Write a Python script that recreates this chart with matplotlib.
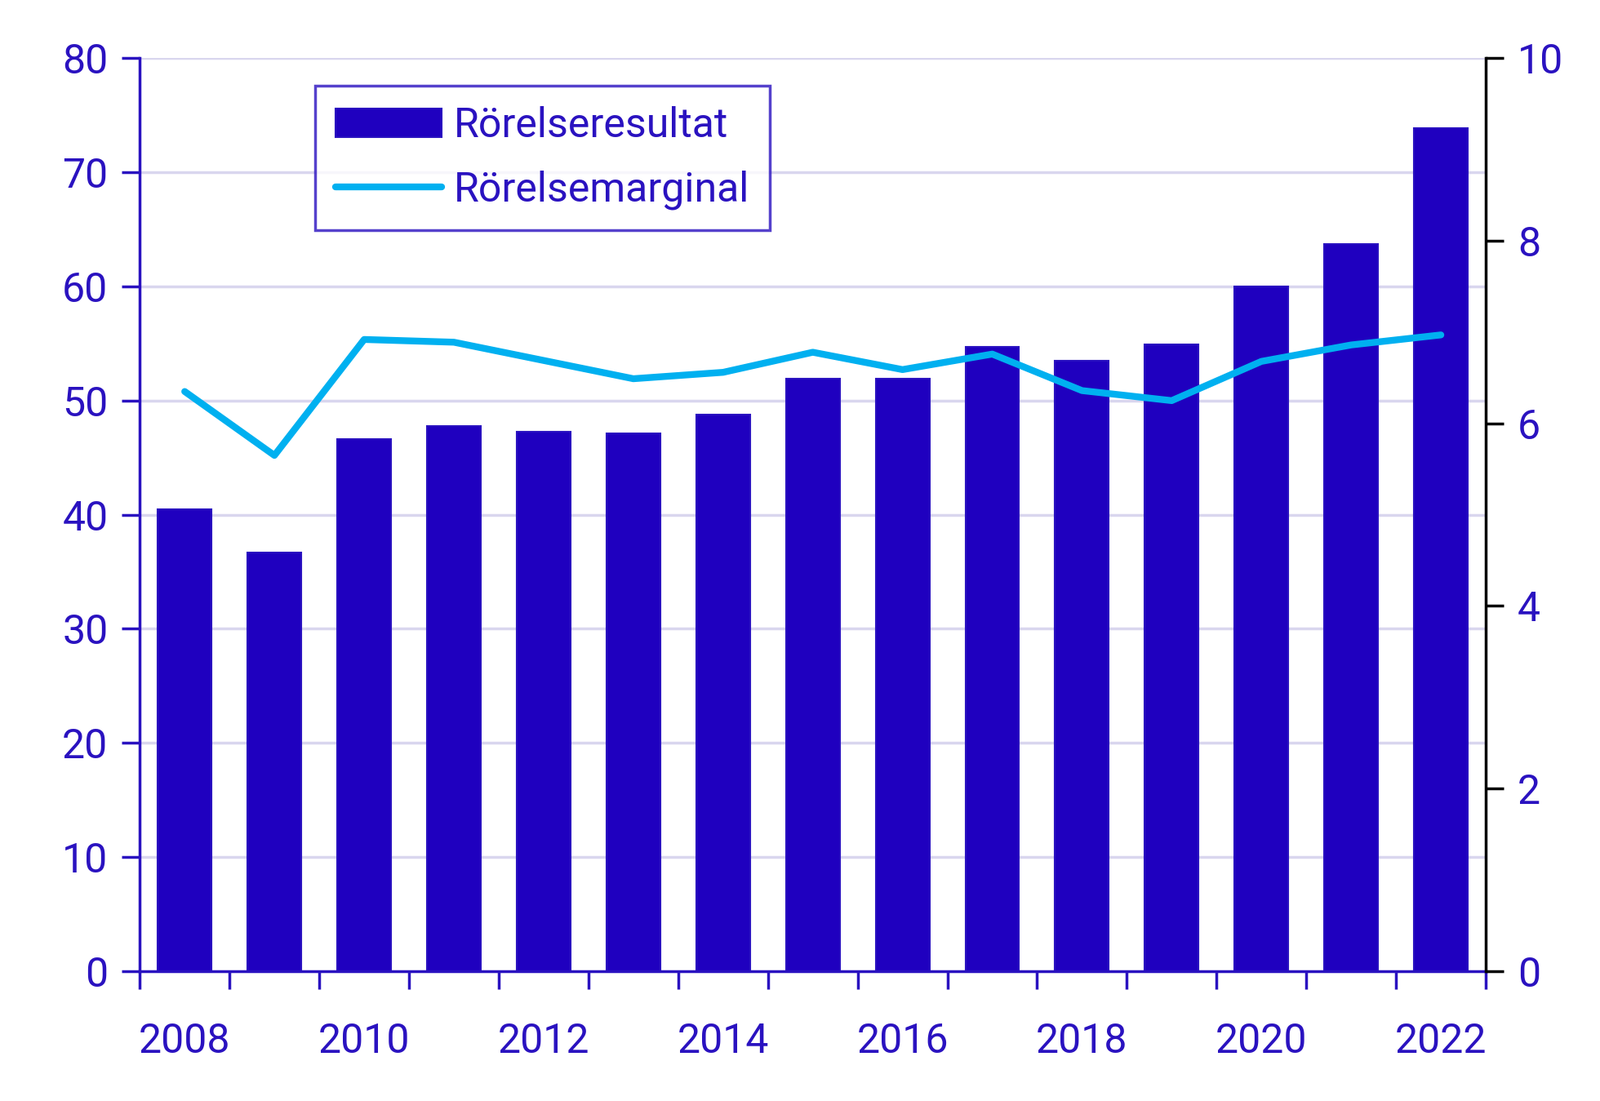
import matplotlib
matplotlib.use("Agg")
import matplotlib.pyplot as plt
import numpy as np

years = list(range(2008, 2023))
rorelseresultat = [40.5, 36.7, 46.6, 47.8, 47.3, 47.1, 48.8, 51.9, 51.9, 54.7, 53.5, 54.9, 60.0, 63.7, 73.9]
rorelsemarginal = [6.35, 5.65, 6.92, 6.89, 6.69, 6.49, 6.56, 6.78, 6.59, 6.76, 6.36, 6.25, 6.68, 6.86, 6.97]

dark = "#1F00BF"
light = "#00B0F0"
txt = "#2A12C0"
plt.rcParams["font.family"] = "Roboto"

fig = plt.figure(figsize=(19.6, 13.49), dpi=100)
ax = fig.add_axes([0.0874, 0.118, 0.8412, 0.829])
x = np.arange(len(years))
ax.bar(x, rorelseresultat, width=0.6, color=dark, edgecolor=txt, linewidth=1.5, label="Rörelseresultat", zorder=2)
ax.set_xlim(-0.5, len(years) - 0.5)
ax.set_ylim(0, 80)
ax.set_yticks(range(0, 81, 10))
ax.yaxis.grid(True, color="#D9D6EE", linewidth=2.5, zorder=0)
ax.set_axisbelow(True)
ax.set_xticks(np.arange(-0.5, len(years), 1))
ax.set_xticklabels([])
ax.set_xticks(x[::2], minor=True)
ax.set_xticklabels([str(y) for y in years[::2]], minor=True)
ax.tick_params(axis="x", which="major", length=16, width=2.5, color=txt)
ax.tick_params(axis="x", which="minor", length=0, pad=45, labelsize=36, labelcolor=txt)
ax.tick_params(axis="y", length=16, width=2.5, color=txt, labelsize=36, labelcolor=txt, pad=12)
for s in ["top"]:
    ax.spines[s].set_visible(False)
ax.spines["left"].set_color(txt); ax.spines["left"].set_linewidth(2.5)
ax.spines["bottom"].set_color(txt); ax.spines["bottom"].set_linewidth(2.5)
ax.spines["right"].set_visible(False)

ax2 = ax.twinx()
ax2.plot(x, rorelsemarginal, color=light, linewidth=6, solid_capstyle="round", label="Rörelsemarginal", zorder=3)
ax2.set_ylim(0, 10)
ax2.set_yticks(range(0, 11, 2))
ax2.tick_params(axis="y", length=16, width=2.5, color="black", labelsize=36, labelcolor=txt, pad=12)
for s in ["top", "left", "bottom"]:
    ax2.spines[s].set_visible(False)
ax2.spines["right"].set_color("black"); ax2.spines["right"].set_linewidth(2.5)

h1, l1 = ax.get_legend_handles_labels()
h2, l2 = ax2.get_legend_handles_labels()
leg = ax2.legend(h1 + h2, l1 + l2, loc="upper left", bbox_to_anchor=(0.13, 0.97), fontsize=36,
                 frameon=True, fancybox=False, labelcolor=txt, handlelength=2.6, handletextpad=0.3,
                 borderpad=0.5, labelspacing=0.6, borderaxespad=0)
leg.get_frame().set_edgecolor(txt); leg.get_frame().set_linewidth(2.5)
fig.savefig("out.png", dpi=100)
